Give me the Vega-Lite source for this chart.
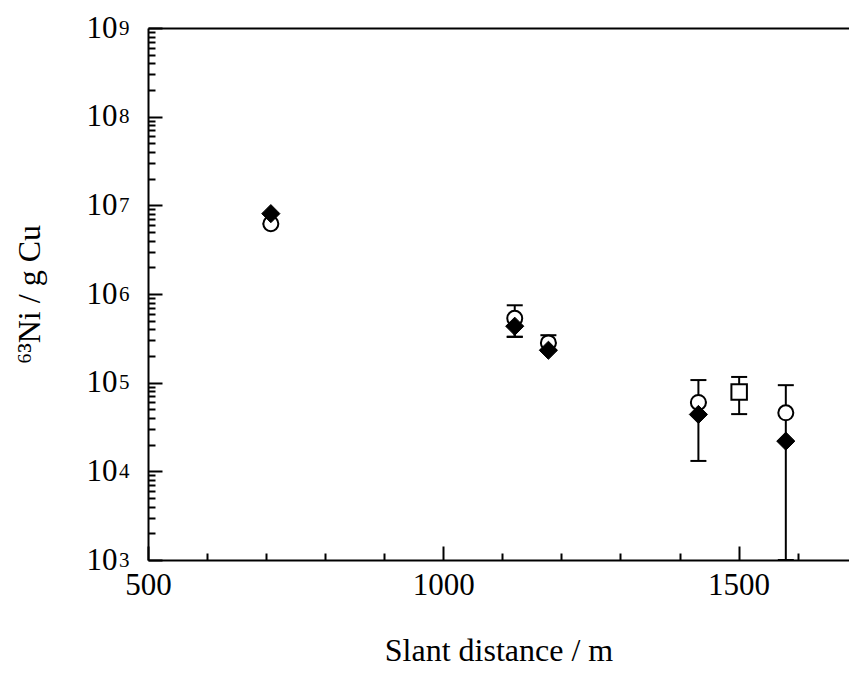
{
  "$schema": "https://vega.github.io/schema/vega-lite/v6.json",
  "width": 701,
  "height": 532,
  "autosize": {"type": "none"},
  "padding": {"left": 148, "top": 28, "right": 0, "bottom": 113},
  "background": "white",
  "config": {
    "view": {"stroke": null},
    "axis": {
      "grid": false, "domainColor": "black", "domainWidth": 2, "tickColor": "black", "tickWidth": 2,
      "labelColor": "black", "titleColor": "black", "labelFont": "Liberation Serif", "titleFont": "Liberation Serif",
      "titleFontWeight": "normal", "labelFlush": false, "labelOverlap": false, "labelBound": false
    }
  },
  "datasets": {
    "pts": [
      {"s": "circle", "x": 708, "y": 6200000, "lo": 6200000, "hi": 6200000},
      {"s": "circle", "x": 1121, "y": 533000, "lo": 330000, "hi": 746000},
      {"s": "circle", "x": 1178, "y": 281000, "lo": 281000, "hi": 343000},
      {"s": "circle", "x": 1432, "y": 59800, "lo": 59800, "hi": 107000},
      {"s": "circle", "x": 1580, "y": 45700, "lo": 21900, "hi": 93700},
      {"s": "square", "x": 1501, "y": 78700, "lo": 44200, "hi": 116000},
      {"s": "diamond", "x": 708, "y": 8060000, "lo": 8060000, "hi": 8060000},
      {"s": "diamond", "x": 1121, "y": 433000, "lo": 328000, "hi": 433000},
      {"s": "diamond", "x": 1178, "y": 232000, "lo": 232000, "hi": 232000},
      {"s": "diamond", "x": 1432, "y": 43800, "lo": 13100, "hi": 59800},
      {"s": "diamond", "x": 1580, "y": 21900, "lo": 1000, "hi": 21900}
    ]
  },
  "data": {"name": "pts"},
  "layer": [
    {
      "mark": {"type": "rule", "color": "black", "strokeWidth": 2},
      "encoding": {
        "x": {"field": "x", "type": "quantitative", "scale": {"domain": [500, 1687], "nice": false, "zero": false},
          "axis": {"orient": "bottom", "values": [500, 1000, 1500], "format": "d", "tickSize": -14, "labelFontSize": 31, "labelPadding": 24,
            "title": "Slant distance / m", "titleFontSize": 32, "titlePadding": 35}},
        "y": {"field": "lo", "type": "quantitative", "scale": {"type": "log", "domain": [1000, 1000000000], "nice": false},
          "axis": {"orient": "left", "values": [1000, 10000, 100000, 1000000, 10000000, 100000000, 1000000000], "tickSize": -14,
            "labelExpr": "'10'", "labelFontSize": 31, "labelPadding": 45, "labelBaseline": "middle", "labelDy": 2,
            "title": "⁶³Ni / g Cu", "titleFontSize": 32, "titlePadding": 40}},
        "y2": {"field": "hi"}
      }
    },
    {
      "mark": {"type": "tick", "orient": "horizontal", "size": 16, "thickness": 2, "color": "black", "opacity": 1},
      "encoding": {
        "x": {"field": "x", "type": "quantitative", "scale": {"domain": [500, 1687], "nice": false, "zero": false},
          "axis": {"orient": "bottom", "values": [600, 700, 800, 900, 1100, 1200, 1300, 1400, 1600], "tickSize": -7, "labels": false, "domain": false, "title": null}},
        "y": {"field": "hi", "type": "quantitative", "scale": {"type": "log", "domain": [1000, 1000000000], "nice": false},
          "axis": {"orient": "left", "values": [2000,3000,4000,5000,6000,7000,8000,9000,20000,30000,40000,50000,60000,70000,80000,90000,200000,300000,400000,500000,600000,700000,800000,900000,2000000,3000000,4000000,5000000,6000000,7000000,8000000,9000000,20000000,30000000,40000000,50000000,60000000,70000000,80000000,90000000,200000000,300000000,400000000,500000000,600000000,700000000,800000000,900000000],
            "tickSize": -7, "labels": false, "domain": false, "title": null}}
      }
    },
    {
      "mark": {"type": "tick", "orient": "horizontal", "size": 16, "thickness": 2, "color": "black", "opacity": 1},
      "encoding": {
        "x": {"field": "x", "type": "quantitative", "scale": {"domain": [500, 1687], "nice": false, "zero": false},
          "axis": {"orient": "top", "ticks": false, "labels": false, "domain": true, "title": null}},
        "y": {"field": "lo", "type": "quantitative", "scale": {"type": "log", "domain": [1000, 1000000000], "nice": false},
          "axis": {"orient": "left", "values": [1000, 10000, 100000, 1000000, 10000000, 100000000, 1000000000], "ticks": false, "domain": false,
            "labelExpr": "'' + round(log(datum.value) / LN10)", "labelFontSize": 21, "labelPadding": 19, "labelBaseline": "middle", "labelDy": -6, "title": null}}
      }
    },
    {
      "transform": [{"filter": "datum.s === 'circle'"}],
      "mark": {"type": "point", "shape": "circle", "size": 225, "filled": true, "fill": "white", "stroke": "black", "strokeWidth": 2, "opacity": 1},
      "encoding": {
        "x": {"field": "x", "type": "quantitative", "scale": {"domain": [500, 1687], "nice": false, "zero": false}, "axis": null},
        "y": {"field": "y", "type": "quantitative", "scale": {"type": "log", "domain": [1000, 1000000000], "nice": false}, "axis": null}
      }
    },
    {
      "transform": [{"filter": "datum.s === 'square'"}],
      "mark": {"type": "point", "shape": "square", "size": 240, "filled": true, "fill": "white", "stroke": "black", "strokeWidth": 2, "opacity": 1},
      "encoding": {
        "x": {"field": "x", "type": "quantitative", "scale": {"domain": [500, 1687], "nice": false, "zero": false}, "axis": null},
        "y": {"field": "y", "type": "quantitative", "scale": {"type": "log", "domain": [1000, 1000000000], "nice": false}, "axis": null}
      }
    },
    {
      "transform": [{"filter": "datum.s === 'diamond'"}],
      "mark": {"type": "point", "shape": "diamond", "size": 330, "filled": true, "fill": "black", "stroke": "black", "strokeWidth": 1, "opacity": 1},
      "encoding": {
        "x": {"field": "x", "type": "quantitative", "scale": {"domain": [500, 1687], "nice": false, "zero": false}, "axis": null},
        "y": {"field": "y", "type": "quantitative", "scale": {"type": "log", "domain": [1000, 1000000000], "nice": false}, "axis": null}
      }
    }
  ],
  "resolve": {"axis": {"x": "independent", "y": "independent"}}
}
